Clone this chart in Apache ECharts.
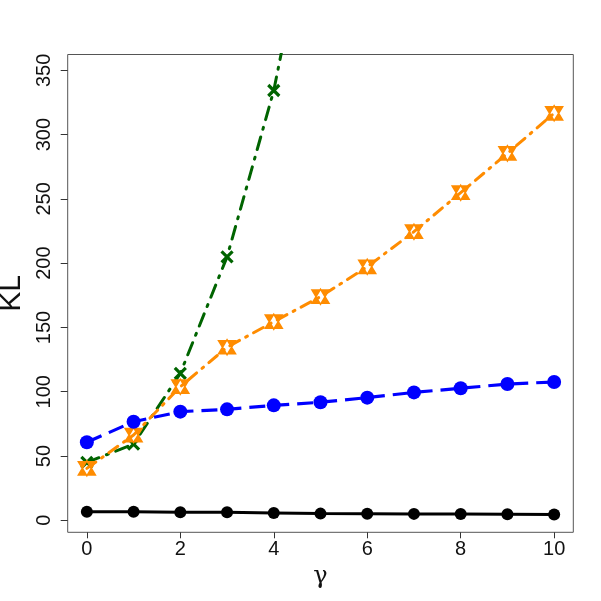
<!DOCTYPE html>
<html>
<head>
<meta charset="utf-8">
<script src="https://cdn.jsdelivr.net/npm/echarts@6/dist/echarts.min.js"></script>
<style>
  html, body { margin: 0; padding: 0; background: #fff; }
  #chart { width: 601px; height: 601px; }
</style>
</head>
<body>
<div id="chart"></div>
<script>
const gammas = [0, 1, 2, 3, 4, 5, 6, 7, 8, 9, 10];
const blackKL = [6.6, 6.7, 6.3, 6.2, 5.7, 5.2, 5.1, 5.0, 4.9, 4.8, 4.5];
const blueKL = [60.7, 76.7, 84.5, 86.3, 89.4, 91.8, 95.4, 99.5, 102.7, 106.0, 107.6];
const orangeKL = [40.4, 66.3, 103.9, 134.6, 154.5, 173.9, 197.2, 224.5, 254.8, 285.4, 316.6];
const greenKL = [45.0, 59.3, 114.3, 204.9, 334.3, 515];
const xTicks = [0, 2, 4, 6, 8, 10];
const yTicks = [0, 50, 100, 150, 200, 250, 300, 350];

const font = "Liberation Sans, Arial, sans-serif";

const pairs = (ys) => ys.map((y, i) => [gammas[i], y]);

const chart = echarts.init(document.getElementById("chart"));

chart.setOption({
  backgroundColor: "#fff",
  animation: false,
  grid: {
    left: 67.7, right: 27.7, top: 54.5, bottom: 68.7,
    containLabel: false,
    outerBoundsMode: "none",
    show: true, borderColor: "#555", borderWidth: 1, backgroundColor: "transparent"
  },
  xAxis: {
    type: "value",
    min: -0.41, max: 10.41,
    splitLine: { show: false },
    axisLine: { show: false, onZero: false },
    axisTick: { show: true, length: 6, customValues: xTicks, lineStyle: { color: "#333" } },
    axisLabel: { customValues: xTicks, fontSize: 20, color: "#111", fontFamily: font, margin: 7 },
    name: "γ",
    nameLocation: "middle",
    nameGap: 32,
    nameTextStyle: { fontSize: 24, color: "#111", fontFamily: "DejaVu Serif, serif" }
  },
  yAxis: {
    type: "value",
    min: -9.33, max: 362.3,
    splitLine: { show: false },
    axisLine: { show: false, onZero: false },
    axisTick: { show: true, length: 7, customValues: yTicks, lineStyle: { color: "#333" } },
    axisLabel: { customValues: yTicks, fontSize: 20, color: "#111", fontFamily: font, rotate: 90, margin: 23, align: "center", verticalAlign: "middle" },
    name: "KL",
    nameLocation: "middle",
    nameGap: 38,
    nameTextStyle: { fontSize: 30, color: "#111", fontFamily: font }
  },
  series: [
    {
      type: "line",
      data: pairs(greenKL),
      clip: true,
      symbol: "path://M0,0 L10,10 M10,0 L0,10",
      symbolSize: 11,
      itemStyle: { color: "#006400", borderColor: "#006400", borderWidth: 3.2 },
      lineStyle: { color: "#006400", width: 3, type: [13, 8, 2, 8], cap: "round" },
      z: 2
    },
    {
      type: "line",
      data: pairs(orangeKL),
      clip: true,
      symbol: "path://M-10,-8 L10,-8 L0,9 Z M-10,8 L10,8 L0,-9 Z",
      symbolSize: [17, 15],
      itemStyle: { color: "#FF8C00", borderColor: "#FF8C00", borderWidth: 1.5 },
      lineStyle: { color: "#FF8C00", width: 3, type: [11, 7, 2, 7], cap: "round" },
      z: 3
    },
    {
      type: "line",
      data: pairs(blueKL),
      clip: true,
      symbol: "circle",
      symbolSize: 14,
      itemStyle: { color: "#0000FF" },
      lineStyle: { color: "#0000FF", width: 3.2, type: [16, 8] },
      z: 4
    },
    {
      type: "line",
      data: pairs(blackKL),
      clip: true,
      symbol: "circle",
      symbolSize: 12,
      itemStyle: { color: "#000" },
      lineStyle: { color: "#000", width: 3 },
      z: 5
    }
  ]
});
</script>
</body>
</html>
